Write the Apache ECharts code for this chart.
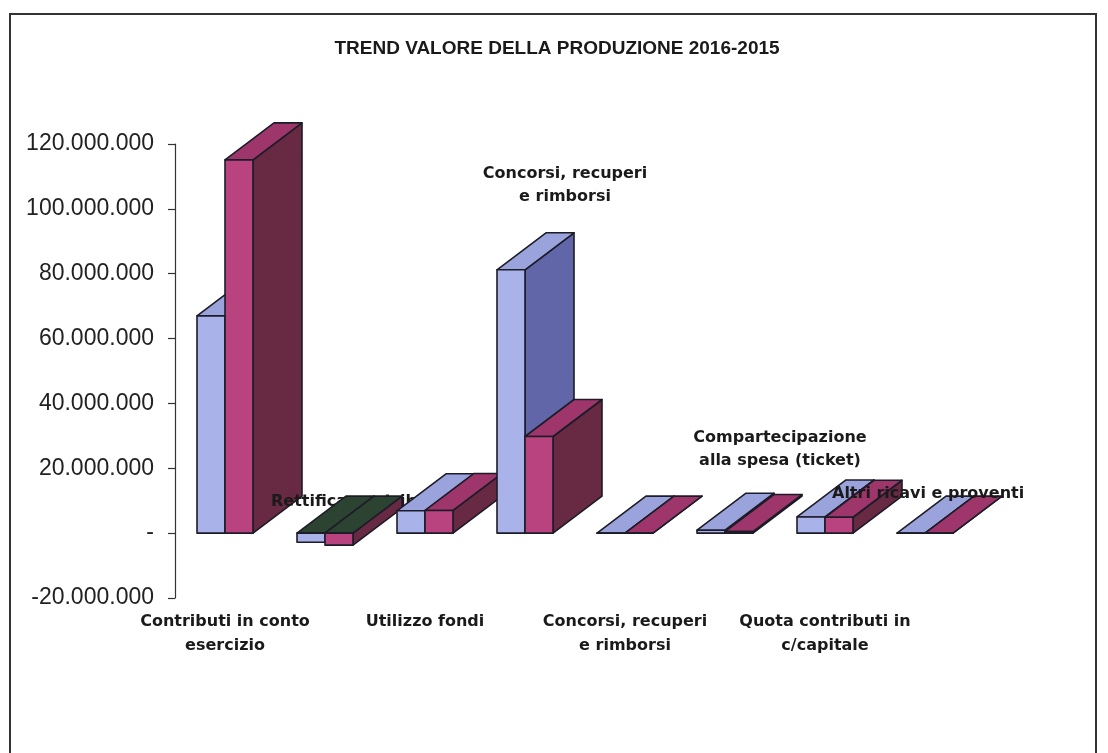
<!DOCTYPE html>
<html>
<head>
<meta charset="utf-8">
<title>Trend valore della produzione</title>
<script src="https://cdn.jsdelivr.net/npm/echarts@6/dist/echarts.min.js"></script>
<style>
  html, body { margin: 0; padding: 0; background: #fff; }
  #chart { width: 1108px; height: 753px; }
</style>
</head>
<body>
<div id="chart"></div>
<script>
// categorie (le etichette pari sono scritte sopra le barre nel grafico originale)
var categories = [
  "Contributi in conto\nesercizio",
  "Rettifica contributi",
  "Utilizzo fondi",
  "Concorsi, recuperi\ne rimborsi",
  "Concorsi, recuperi\ne rimborsi",
  "Compartecipazione\nalla spesa (ticket)",
  "Quota contributi in\nc/capitale",
  "Altri ricavi e proventi"
];
var values2016 = [67000000, -2800000, 6900000, 81200000, 0, 900000, 5000000, 0];
var values2015 = [115100000, -3700000, 7000000, 29800000, 0, 500000, 4900000, 0];
var yTicks = [-20000000, 0, 20000000, 40000000, 60000000, 80000000, 100000000, 120000000];

var colors = [
  { front: "#a9b3ea", top: "#9ba3dc", side: "#6166a9" },
  { front: "#b8437f", top: "#9e366b", side: "#682943" }
];
var negTop = "#2d4331";
var textFont = "bold 16px 'DejaVu Sans'";

// etichette "volanti": scostamento in pixel dal piede della categoria
var floatLabels = {
  1: { dx: -54, dy: -31, align: "left", z2: 9 },
  3: { dx: 40, dy: -348, align: "center", z2: 900 },
  5: { dx: 55, dy: -84, align: "center", z2: 900 },
  7: { dx: -93, dy: -39, align: "left", z2: 900 }
};

function fmt(v) {
  if (v === 0) return "-";
  var s = String(Math.abs(v)).replace(/\B(?=(\d{3})+(?!\d))/g, ".");
  return (v < 0 ? "-" : "") + s;
}

function make3dBar(s) {
  return function (params, api) {
    var i = api.value(0), v = api.value(1);
    var base = api.coord([i, 0]);
    var end = api.coord([i, v]);
    var band = api.size([1, 0])[0];
    var w = band * 0.28;
    var dx = band * 0.49, dy = -band * 0.37;
    var x0 = base[0] - w + s * w, x1 = x0 + w;
    var yTop = Math.min(base[1], end[1]);
    var yBot = Math.max(base[1], end[1]);
    var c = colors[s];
    var line = { stroke: "#1c1c28", lineWidth: 1.6, lineJoin: "round" };
    var z = i * 10 + s;
    var children = [
      {
        type: "polygon", z2: z,
        shape: { points: [[x1, yTop], [x1 + dx, yTop + dy], [x1 + dx, yBot + dy], [x1, yBot]] },
        style: Object.assign({ fill: c.side }, line)
      },
      {
        type: "polygon", z2: z,
        shape: { points: [[x0, yTop], [x0 + dx, yTop + dy], [x1 + dx, yTop + dy], [x1, yTop]] },
        style: Object.assign({ fill: v < 0 ? negTop : c.top }, line)
      },
      {
        type: "rect", z2: z,
        shape: { x: x0, y: yTop, width: w, height: yBot - yTop },
        style: Object.assign({ fill: c.front }, line)
      }
    ];
    var fl = floatLabels[i];
    if (s === 0 && fl) {
      children.push({
        type: "text", z2: fl.z2,
        x: base[0] + fl.dx, y: base[1] + fl.dy,
        style: {
          text: categories[i], font: textFont, fill: "#1a1a1a",
          textAlign: fl.align, textVerticalAlign: "middle", lineHeight: 23
        }
      });
    }
    return { type: "group", children: children };
  };
}

var chart = echarts.init(document.getElementById("chart"));

chart.setOption({
  backgroundColor: "#ffffff",
  animation: false,
  title: {
    text: "TREND VALORE DELLA PRODUZIONE 2016-2015",
    left: 552, top: 34, textAlign: "center",
    textStyle: { fontFamily: "Liberation Sans", fontWeight: "bold", fontSize: 19, color: "#1a1a1a" }
  },
  grid: { left: 175, right: 133, top: 144, bottom: 155 },
  xAxis: {
    type: "category",
    data: categories,
    axisLine: { show: false },
    axisTick: { show: false },
    axisLabel: {
      interval: 1, margin: 12,
      fontFamily: "DejaVu Sans", fontWeight: "bold", fontSize: 16, color: "#1a1a1a", lineHeight: 24
    }
  },
  yAxis: {
    type: "value",
    min: yTicks[0],
    max: yTicks[yTicks.length - 1],
    interval: 20000000,
    splitLine: { show: false },
    axisLine: { show: true, lineStyle: { color: "#333", width: 1.2 } },
    axisTick: { show: true, length: 7, lineStyle: { color: "#333", width: 1.2 } },
    axisLabel: {
      margin: 21, fontFamily: "Liberation Sans", fontSize: 23, color: "#222",
      formatter: fmt
    }
  },
  graphic: [
    { type: "rect", z: 0, shape: { x: 10, y: 14, width: 1086, height: 760 },
      style: { fill: null, stroke: "#333", lineWidth: 2 } }
  ],
  series: [
    {
      name: "2016", type: "custom", z: 2,
      renderItem: make3dBar(0),
      encode: { x: 0, y: 1 },
      data: values2016.map(function (v, i) { return [i, v]; })
    },
    {
      name: "2015", type: "custom", z: 2,
      renderItem: make3dBar(1),
      encode: { x: 0, y: 1 },
      data: values2015.map(function (v, i) { return [i, v]; })
    }
  ]
});
</script>
</body>
</html>
